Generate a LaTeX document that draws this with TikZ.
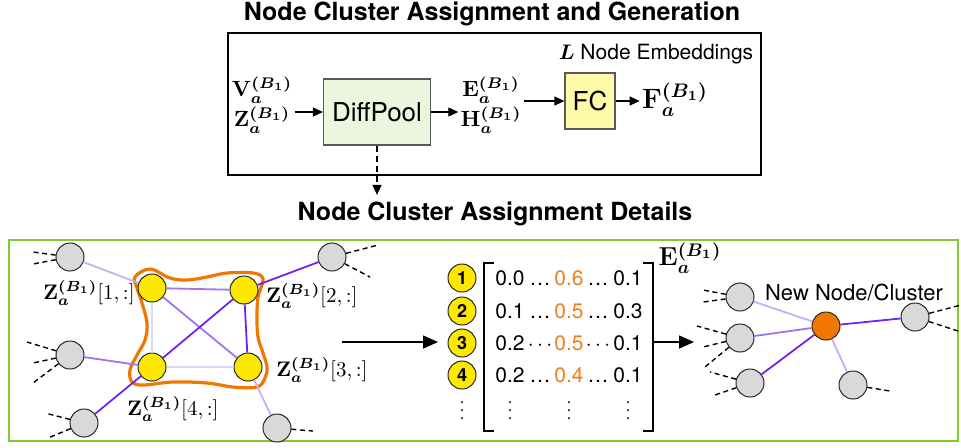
\RequirePackage{fix-cm}
\documentclass[tikz,border=0pt]{standalone}
\usepackage{fontspec}
\setmainfont{TeX Gyre Heros}
\usetikzlibrary{arrows.meta}

\definecolor{edgeDeep}{RGB}{115,35,235}
\definecolor{edgeMid}{RGB}{160,115,240}
\definecolor{edgePale}{RGB}{200,175,245}
\definecolor{edgeFaint}{RGB}{226,212,250}
\definecolor{nodeGray}{RGB}{217,217,217}
\definecolor{nodeYellow}{RGB}{255,232,0}
\definecolor{clusterOrange}{RGB}{240,120,0}
\definecolor{textOrange}{RGB}{240,125,30}
\definecolor{frameGreen}{RGB}{130,200,50}
\definecolor{poolFill}{RGB}{236,246,222}
\definecolor{fcFill}{RGB}{255,250,170}

\newcommand{\Zrow}[1]{{\boldmath$\mathbf{Z}_a^{(B_1)}$}$[#1,:]$}
\newcommand{\Bsym}[1]{{\boldmath$\mathbf{#1}_a^{(B_1)}$}}
\newcommand{\rowDots}[1]{\ifnum#1=3 $\cdots$\else\ldots\fi}

\begin{document}
\begin{tikzpicture}
[x=0.5pt,y=-0.5pt,
  grayNode/.style={shape=circle,draw=black!85,fill=nodeGray,line width=0.5pt,minimum size=14pt,inner sep=0pt},%
  yellowNode/.style={grayNode,fill=nodeYellow},%
  clusterNode/.style={grayNode,fill=clusterOrange},%
  indexNode/.style={grayNode,fill=nodeYellow,font=\fontsize{9}{10}\selectfont},%
  linkLine/.style={-,line width=0.9pt},%
  dashEnd/.style={-,line width=0.7pt,dash pattern=on 2.5pt off 1.8pt},%
  flow/.style={-{Triangle[length=5pt,width=4.5pt]},line width=0.6pt},%
  bigFlow/.style={-{Triangle[length=7.5pt,width=6.5pt]},line width=0.8pt},%
  titleText/.style={font=\fontsize{12.5}{14}\selectfont\bfseries},%
  boxText/.style={draw=black!65,line width=0.6pt,font=\fontsize{13}{15}\selectfont,inner sep=0pt},%
  pairLabel/.style={font=\fontsize{11}{15}\selectfont,align=center,inner sep=1pt},%
  bigLabel/.style={font=\fontsize{14}{16}\selectfont,inner sep=1pt},%
  midLabel/.style={font=\fontsize{13}{15}\selectfont,inner sep=1pt},%
  zLabel/.style={font=\fontsize{10.5}{12}\selectfont,inner sep=0pt},%
  cellText/.style={font=\fontsize{10.5}{12}\selectfont,inner sep=0pt,anchor=base},%
  dotsText/.style={font=\fontsize{8}{9}\selectfont,inner sep=0pt},%
  plainText/.style={font=\fontsize{11}{13}\selectfont,inner sep=0pt},%
  smallText/.style={font=\fontsize{10.5}{12}\selectfont,inner sep=0pt}]
\useasboundingbox (0,0) rectangle (961,447);

%% titles and frames
\node[titleText] (mainTitle) at (492,14) {Node Cluster Assignment and Generation};
\node[titleText] (detailTitle) at (495,214) {Node Cluster Assignment Details};
\draw[line width=0.8pt] (228,33) rectangle (761,175);
\draw[frameGreen,line width=1pt] (9,240) rectangle (958,441);

%% pipeline in the top box
\node[pairLabel] (inputs) at (262,105) {\Bsym{V}\\\Bsym{Z}};
\node[boxText,fill=poolFill,minimum width=53.5pt,minimum height=33pt] (diff) at (377,112) {DiffPool};
\node[pairLabel] (embOut) at (491,105) {\Bsym{E}\\\Bsym{H}};
\node[boxText,fill=fcFill,minimum width=25pt,minimum height=28pt] (fc) at (590,101) {FC};
\node[bigLabel] (fOut) at (675,100) {\Bsym{F}};
\node[smallText] (numEmb) at (656,54) {{\boldmath$L$} Node Embeddings};

\draw[flow] (inputs.east |- diff.west) -- (diff.west);
\draw[flow] (diff.east) -- (diff.east -| embOut.west);
\draw[flow] (embOut.east |- fc.west) -- (fc.west);
\draw[flow] (fc.east) -- (fc.east -| fOut.west);
\draw[flow,dash pattern=on 3pt off 2pt] (diff.south) -- (diff.south |- detailTitle.north);

%% cluster outline
\draw[clusterOrange,line width=1.6pt] plot[smooth cycle,tension=0.6] coordinates {
  (135,277) (150,269) (170,278) (187,280) (207,277) (227,273) (253,273) (263,279)
  (258,297) (257,317) (258,337) (263,353) (267,367) (265,378) (257,387)
  (233,387) (207,383) (173,382) (143,385) (132,382) (130,370) (137,355)
  (145,340) (147,323) (142,303) (137,288)};

%% nodes or vertices
\foreach \nodename/\x/\y in {g1/70/257, g2/70/355, g3/84/423, g4/332/257, g5/277/428,
  r1/740/297, r2/740/338, r3/750/383, r4/853/385, r5/915/317}
{
  \node (\nodename) at (\x,\y) [grayNode] {};
}
\foreach \nodename/\x/\y in {y1/152/288, y2/244/290, y3/248/367, y4/152/367}
{
  \node (\nodename) at (\x,\y) [yellowNode] {};
}
\node (newNode) at (826,326) [clusterNode] {};
\node[plainText] (newTag) at (854,292) {New Node/Cluster};

%% edges or lines
\path
\foreach \startnode/\endnode/\tone in {g1/y1/edgePale, y1/y2/edgeMid, y1/y4/edgeFaint,
  y1/y3/edgeMid, y4/y2/edgeDeep, y2/y3/edgeDeep, y4/y3/edgeFaint, g2/y4/edgeMid,
  g3/y4/edgeDeep, g4/y2/edgeDeep, g5/y3/edgePale, r1/newNode/edgePale,
  r2/newNode/edgeMid, r3/newNode/edgeDeep, r4/newNode/edgePale, r5/newNode/edgeDeep}
{
  (\startnode) edge[linkLine,\tone] (\endnode)
};

%% loose ends
\foreach \src/\x/\y [count=\k] in {g1/33/252, g1/33/264, g2/27/342, g2/33/363, g2/33/383,
  g3/45/413, g3/48/438, g4/378/245, g4/370/277, g5/313/431, r1/703/290, r1/703/302,
  r2/697/326, r2/703/347, r2/705/367, r3/710/372, r3/715/395, r4/890/391,
  r5/961/305, r5/961/332}
{
  \coordinate (loose\k) at (\x,\y);
  \draw[dashEnd] (\src) -- (loose\k);
}

%% row labels
\node[zLabel,anchor=east] (z1) at (135,293) {\Zrow{1}};
\node[zLabel,anchor=west] (z2) at (266,296) {\Zrow{2}};
\node[zLabel,anchor=west] (z3) at (276,370) {\Zrow{3}};
\node[zLabel] (z4) at (173,409) {\Zrow{4}};

%% assignment matrix
\foreach \i/\y in {1/278, 2/311, 3/343, 4/375}
{
  \node (idx\i) at (462,\y) [indexNode] {$\mathbf{\i}$};
}
\foreach \r/\y/\a/\b/\c in {1/278/0.0/0.6/0.1, 2/311/0.1/0.5/0.3,
  3/343/0.2/0.5/0.1, 4/375/0.2/0.4/0.1}
{
  \node[cellText] (m\r a) at (510,\y+7) {\a};
  \node[cellText] (m\r p) at (540,\y+7) {\rowDots{\r}};
  \node[cellText,text=textOrange] (m\r b) at (569,\y+7) {\b};
  \node[cellText] (m\r q) at (598,\y+7) {\rowDots{\r}};
  \node[cellText] (m\r c) at (628,\y+7) {\c};
}
\foreach \x in {462,510,569,628}
{
  \node[dotsText] (vd\x) at (\x,405) {$\vdots$};
}
\draw[line width=0.6pt] (494,263) -- (484,263) -- (484,431) -- (494,431);
\draw[line width=0.6pt] (643,263) -- (653,263) -- (653,431) -- (643,431);
\node[midLabel] (eLabel) at (690,258) {\Bsym{E}};

%% arrows between stages
\coordinate (graphOut) at (342,342);
\coordinate (matIn) at (438,342);
\coordinate (matOut) at (653,342);
\coordinate (newIn) at (694,342);
\draw[bigFlow] (graphOut) -- (matIn);
\draw[bigFlow] (matOut) -- (newIn);
\end{tikzpicture}
\end{document}
